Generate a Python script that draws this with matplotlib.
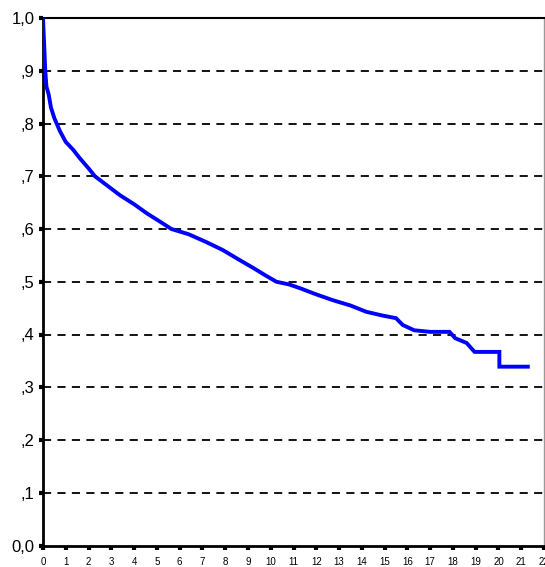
import matplotlib
matplotlib.use("Agg")
import matplotlib.pyplot as plt

# Survival curve
times = [0, 0.05, 0.1, 0.15, 0.25, 0.35, 0.5, 0.75, 1.0, 1.33, 1.6, 2.0, 2.28, 2.8,
         3.38, 4.0, 4.55, 5.1, 5.64, 6.4, 7.18, 7.9, 8.64, 9.2, 9.81, 10.25, 10.8,
         11.27, 12.0, 12.73, 13.5, 14.2, 14.9, 15.5, 15.8, 16.3, 17.0, 17.85, 18.1,
         18.6, 18.95, 20.04, 20.04, 21.29]
surv = [1.0, 0.95, 0.90, 0.87, 0.855, 0.83, 0.81, 0.785, 0.765, 0.75, 0.735, 0.715,
        0.70, 0.683, 0.664, 0.647, 0.63, 0.615, 0.60, 0.59, 0.575, 0.56, 0.541, 0.527,
        0.511, 0.50, 0.495, 0.488, 0.476, 0.465, 0.455, 0.443, 0.436, 0.431, 0.418,
        0.408, 0.405, 0.405, 0.393, 0.384, 0.367, 0.367, 0.339, 0.339]

x_ticks = list(range(0, 23))
y_ticks = [0.0, 0.1, 0.2, 0.3, 0.4, 0.5, 0.6, 0.7, 0.8, 0.9, 1.0]
y_labels = ["0,0", ",1", ",2", ",3", ",4", ",5", ",6", ",7", ",8", ",9", "1,0"]

plt.rcParams['font.family'] = ['Liberation Sans', 'DejaVu Sans']

fig = plt.figure(figsize=(5.45, 5.67), dpi=100)
ax = fig.add_axes([43/545, 21.5/567, 501/545, (545.5-18)/567])

for y in y_ticks[1:-1]:
    ax.axhline(y, color='black', lw=1.3, ls=(0, (4.5, 3.5)), zorder=1)

ax.plot(times, surv, color='#0000ff', lw=2.8, solid_joinstyle='miter', zorder=3)

ax.set_xlim(0, 22)
ax.set_ylim(0, 1.0)
ax.set_xticks(x_ticks)
ax.set_xticklabels([str(t) for t in x_ticks], fontsize=7)
ax.set_yticks(y_ticks)
ax.set_yticklabels(y_labels, fontsize=12)
ax.tick_params(axis='x', direction='out', length=3, width=3, pad=5, color='black')
ax.tick_params(axis='y', direction='out', length=3, width=3, pad=3, color='black')

for s in ['left', 'bottom']:
    ax.spines[s].set_linewidth(2)
    ax.spines[s].set_color('black')
ax.spines['top'].set_linewidth(1.5)
ax.spines['top'].set_color('black')
ax.spines['right'].set_linewidth(1)
ax.spines['right'].set_color('#999999')

fig.savefig('out.png', dpi=100)
